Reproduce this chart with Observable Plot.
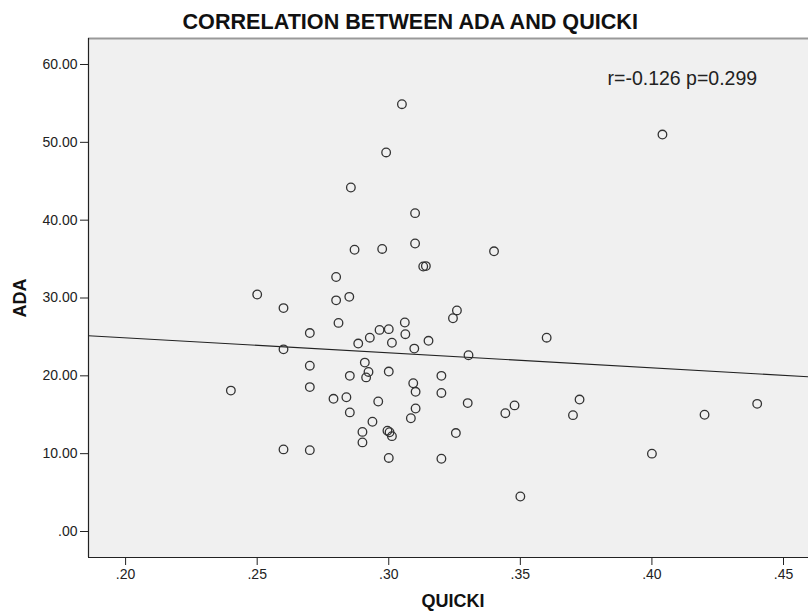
<!DOCTYPE html>
<html>
<head>
<meta charset="utf-8">
<script src="https://cdn.jsdelivr.net/npm/d3@7"></script>
<script src="https://cdn.jsdelivr.net/npm/@observablehq/plot@0.6"></script>
<style>
  html, body { margin: 0; padding: 0; background: #fff; }
  #chart svg { display: block; }
</style>
</head>
<body>
<div id="chart"></div>
<script>
const titleText = "CORRELATION BETWEEN ADA AND QUICKI";
const xLabel = "QUICKI";
const yLabel = "ADA";
const statText = "r=-0.126 p=0.299";

const quicki = [
  0.305, 0.299, 0.2856, 0.310, 0.287, 0.2975, 0.310, 0.340, 0.3131, 0.3141,
  0.280, 0.250, 0.260, 0.280, 0.285, 0.2809, 0.270, 0.3259, 0.3244, 0.3061,
  0.2965, 0.300, 0.2928, 0.3063, 0.2884, 0.3012, 0.3151, 0.3097, 0.3303, 0.260,
  0.270, 0.2909, 0.2923, 0.2914, 0.2852, 0.300, 0.320, 0.3093, 0.3102, 0.320,
  0.240, 0.270, 0.279, 0.2839, 0.296, 0.330, 0.3478, 0.3443, 0.2852, 0.3102,
  0.3084, 0.2938, 0.3255, 0.290, 0.2995, 0.3003, 0.3012, 0.290, 0.260, 0.270,
  0.300, 0.320, 0.350, 0.404, 0.360, 0.3725, 0.370, 0.420, 0.440, 0.400
];
const ada = [
  54.9, 48.7, 44.2, 40.9, 36.2, 36.3, 37.0, 36.0, 34.05, 34.1,
  32.7, 30.45, 28.7, 29.7, 30.15, 26.8, 25.5, 28.4, 27.4, 26.85,
  25.9, 26.0, 24.9, 25.35, 24.15, 24.25, 24.5, 23.5, 22.65, 23.4,
  21.3, 21.7, 20.5, 19.8, 20.0, 20.55, 20.0, 19.05, 17.95, 17.8,
  18.1, 18.55, 17.05, 17.25, 16.7, 16.5, 16.2, 15.2, 15.3, 15.8,
  14.55, 14.1, 12.65, 12.8, 12.95, 12.75, 12.25, 11.45, 10.55, 10.45,
  9.45, 9.35, 4.5, 51.0, 24.9, 16.95, 14.95, 15.0, 16.4, 10.0
];
const xTicks = [0.20, 0.25, 0.30, 0.35, 0.40, 0.45];
const yTicks = [0, 10, 20, 30, 40, 50, 60];
const xDomain = [0.1859, 0.4595];
const yDomain = [-3.34, 63.34];

const points = quicki.map((q, i) => ({ q, a: ada[i] }));

// least-squares fit line across the whole x domain
const mx = d3.mean(quicki), my = d3.mean(ada);
const sxy = d3.sum(points, d => (d.q - mx) * (d.a - my));
const sxx = d3.sum(points, d => (d.q - mx) ** 2);
const slope = sxy / sxx, intercept = my - slope * mx;
const fitLine = xDomain.map(q => ({ q, a: intercept + slope * q }));

const font = "'Liberation Sans', Arial, Helvetica, sans-serif";

const chart = Plot.plot({
  width: 808,
  height: 612,
  marginLeft: 88,
  marginRight: 0,
  marginTop: 38,
  marginBottom: 55,
  style: { fontFamily: font, background: "#fff", color: "#222", overflow: "visible" },
  x: { domain: xDomain },
  y: { domain: yDomain },
  marks: [
    Plot.frame({ fill: "#f0f0f0", stroke: null }),
    Plot.axisX({ ticks: xTicks, tickFormat: d => d3.format(".2f")(d).replace(/^0/, ""),
      tickSize: 8, tickPadding: 4, fontSize: 14, label: null, stroke: "#222", fill: "#222" }),
    Plot.axisY({ ticks: yTicks, tickFormat: d => d === 0 ? ".00" : d3.format(".2f")(d),
      tickSize: 8, tickPadding: 3, fontSize: 14, label: null, stroke: "#222", fill: "#222" }),
    Plot.line(fitLine, { x: "q", y: "a", stroke: "#222", strokeWidth: 1.1 }),
    Plot.dot(points, { x: "q", y: "a", r: 4.3, stroke: "#333", strokeWidth: 1.3, fill: "none" }),
    Plot.ruleY([yDomain[1]], { stroke: "#999", strokeWidth: 2 }),
    Plot.ruleX([xDomain[0]], { stroke: "#222", strokeWidth: 1.2 }),
    Plot.ruleY([yDomain[0]], { stroke: "#222", strokeWidth: 1.2 }),
    Plot.text([statText], { frameAnchor: "top-left", dx: 607 - 88, dy: 40, textAnchor: "start",
      lineAnchor: "middle", fontSize: 19.5, fill: "#222" }),
    Plot.text([titleText], { frameAnchor: "top-left", dx: 182 - 88, dy: -16, textAnchor: "start",
      lineAnchor: "middle", fontSize: 21.6, fontWeight: "bold", fill: "#111" }),
    Plot.text([xLabel], { frameAnchor: "bottom-left", dx: 421 - 88, dy: 44, textAnchor: "start",
      lineAnchor: "middle", fontSize: 18, fontWeight: "bold", fill: "#111" }),
    Plot.text([yLabel], { frameAnchor: "left", dx: 20 - 88, dy: 0, rotate: -90,
      textAnchor: "middle", lineAnchor: "middle", fontSize: 18, fontWeight: "bold", fill: "#111" })
  ]
});
document.getElementById("chart").appendChild(chart);
</script>
</body>
</html>
